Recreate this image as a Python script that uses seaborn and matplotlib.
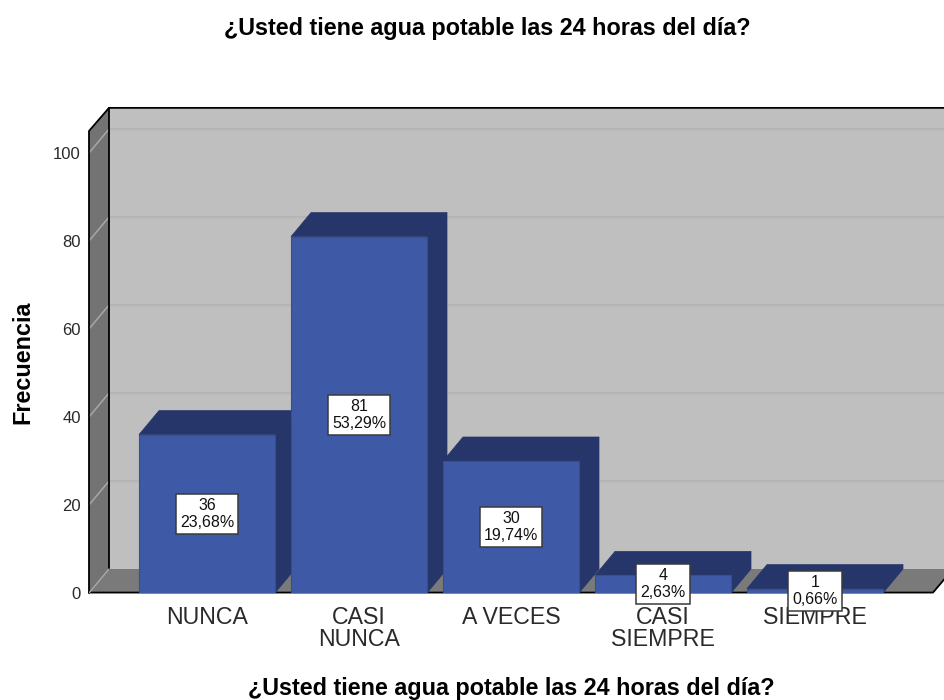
import pandas as pd
import matplotlib
matplotlib.use('Agg')
import matplotlib.pyplot as plt
from matplotlib.patches import Polygon
import seaborn as sns

categorias = ['NUNCA', 'CASI\nNUNCA', 'A VECES', 'CASI\nSIEMPRE', 'SIEMPRE']
frecuencia = [36, 81, 30, 4, 1]
porcentaje = ['23,68%', '53,29%', '19,74%', '2,63%', '0,66%']
ticks_y = [0, 20, 40, 60, 80, 100]
titulo = '¿Usted tiene agua potable las 24 horas del día?'

sns.set_theme(style='white')
plt.rcParams['font.family'] = ['Liberation Sans', 'DejaVu Sans']

df = pd.DataFrame({'categoria': categorias, 'frecuencia': frecuencia})

fig = plt.figure(figsize=(9.44, 7), dpi=100)
ax = fig.add_axes([89 / 944, 1 - 593 / 700, 855 / 944, 486 / 700])

ancho = 136 / 152
sns.barplot(data=df, x='categoria', y='frecuencia', ax=ax, color='#3e5aa6', saturation=1,
            width=ancho, edgecolor='#34508f', linewidth=0.8, zorder=5)

x_min, x_max = -118 / 152, 737 / 152
y_max = 486 / 4.4
ax.set_xlim(x_min, x_max)
ax.set_ylim(0, y_max)

# profundidad del efecto 3D
dx = 20 / 152
dy = 24 / 4.4

# paredes y suelo
ax.add_patch(Polygon([(x_min + dx, dy), (x_max + 1, dy), (x_max + 1, y_max), (x_min + dx, y_max)],
                     fc='#bfbfbf', ec='none', zorder=0))
ax.add_patch(Polygon([(x_min, 0), (x_min + dx, dy), (x_min + dx, y_max), (x_min, y_max - dy)],
                     fc='#737373', ec='none', zorder=1))
ax.add_patch(Polygon([(x_min, 0), (x_min + dx, dy), (x_max + 1, dy), (x_max + 1 - dx, 0)],
                     fc='#7a7a7a', ec='none', zorder=1))
x_fin = x_min + 844 / 152
ax.add_patch(Polygon([(x_fin, 0), (x_fin + dx, dy), (x_max + 1, dy), (x_max + 1, 0)],
                     fc='white', ec='none', zorder=1.5))

# lineas de cuadricula
for t in ticks_y[1:]:
    ax.plot([x_min + dx, x_max], [t + dy, t + dy], color='#b5b5b5', lw=1.6, zorder=0.5)
    ax.plot([x_min, x_min + dx], [t, t + dy], color='#a8a8a8', lw=1.1, zorder=1.2)

# bordes negros
ax.plot([x_min, x_min, x_min + dx, x_max], [0, y_max - dy, y_max - 0.2, y_max - 0.2],
        color='black', lw=1.3, zorder=2, clip_on=False)
ax.plot([x_min + dx, x_min + dx], [dy, y_max], color='black', lw=1.3, zorder=2)
ax.plot([x_min, x_fin, x_fin + dx], [0.1, 0.1, dy], color='black', lw=1.3, zorder=2, clip_on=False)
ax.plot([x_min, x_min + dx], [0, dy], color='#a8a8a8', lw=1, zorder=2)

# caras superior y lateral de cada barra, y etiqueta
for i, v in enumerate(frecuencia):
    izq, der = i - ancho / 2, i + ancho / 2
    ax.add_patch(Polygon([(izq, v), (izq + dx, v + dy), (der + dx, v + dy), (der, v)],
                         fc='#26366b', ec='#26366b', lw=0.5, zorder=4))
    ax.add_patch(Polygon([(der, 0), (der + dx, dy), (der + dx, v + dy), (der, v)],
                         fc='#26366b', ec='#26366b', lw=0.5, zorder=4))
    ax.text(i, v / 2, f'{v}\n{porcentaje[i]}', ha='center', va='center', fontsize=11.5,
            color='#111111', linespacing=1.15, zorder=6, clip_on=False,
            bbox=dict(boxstyle='square,pad=0.25', fc='white', ec='#3a3a3a', lw=1.1))

ax.set_xticks(range(len(categorias)))
ax.set_xticklabels(categorias, fontsize=16.7, color='#2a2a2a', linespacing=1.0, zorder=8)
ax.set_yticks(ticks_y)
ax.set_yticklabels([str(t) for t in ticks_y], fontsize=12, color='#2a2a2a')
ax.tick_params(axis='x', length=0, pad=9)
ax.tick_params(axis='y', length=0, pad=6)
ax.set_xlabel('')
ax.set_ylabel('')
sns.despine(ax=ax, left=True, bottom=True)
for s in ax.spines.values():
    s.set_visible(False)

fig.text(487 / 944, 1 - 29 / 700, titulo, ha='center', va='center', fontsize=16.8,
         fontweight='bold', color='black')
fig.text(511 / 944, 1 - 689 / 700, titulo, ha='center', va='center', fontsize=16.8,
         fontweight='bold', color='black')
fig.text(23 / 944, 1 - 362 / 700, 'Frecuencia', rotation=90, ha='center', va='center',
         fontsize=16.8, fontweight='bold', color='black')

fig.savefig('out.png', dpi=100)
